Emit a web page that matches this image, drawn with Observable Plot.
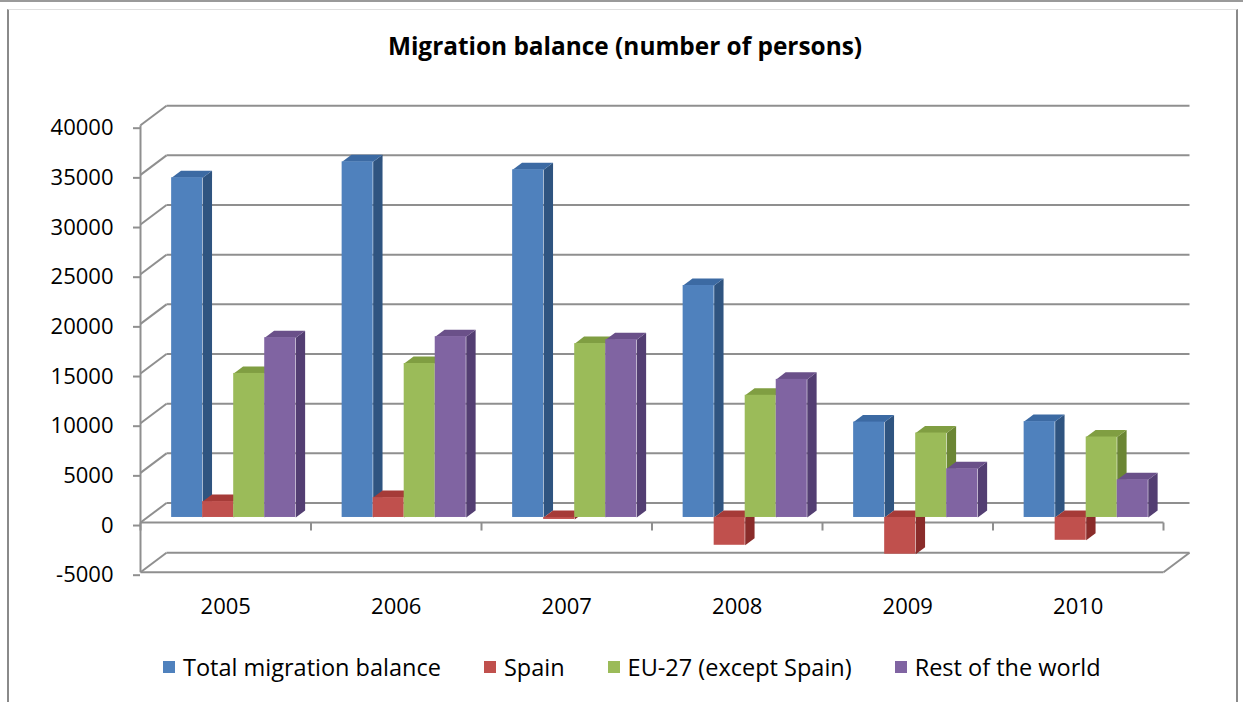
<!DOCTYPE html>
<html>
<head>
<meta charset="utf-8">
<script src="https://cdn.jsdelivr.net/npm/d3@7"></script>
<script src="https://cdn.jsdelivr.net/npm/@observablehq/plot@0.6"></script>
<style>
  html, body { margin: 0; padding: 0; background: #fff; }
  body { width: 1243px; height: 702px; position: relative; overflow: hidden; font-family: "Open Sans", sans-serif; }
  #topline { position: absolute; left: 0; top: 0; width: 1243px; height: 2px; background: #9a9a9a; }
  #frame { position: absolute; left: 7px; top: 9px; width: 1227px; height: 700px; border-left: 2px solid #8a8a8a; border-right: 2px solid #8a8a8a; border-top: 1px solid #e0e0e0; }
  #title { position: absolute; left: 0; top: 31px; width: 1250px; text-align: center; font-weight: bold; font-size: 24.4px; line-height: 30px; color: #000; }
  #chart { position: absolute; left: 0; top: 80px; }
  #legend { position: absolute; left: 163px; top: 652px; display: flex; gap: 43px; font-size: 23.5px; line-height: 30px; color: #000; }
  #legend .item { display: flex; align-items: center; }
  #legend .sw { width: 12px; height: 12px; margin-right: 8px; }
</style>
</head>
<body>
<div id="topline"></div>
<div id="frame"></div>
<div id="title">Migration balance (number of persons)</div>
<div id="chart"></div>
<div id="legend"></div>
<script>
// ---- Data ----
const years = ["2005", "2006", "2007", "2008", "2009", "2010"];
const seriesNames = ["Total migration balance", "Spain", "EU-27 (except Spain)", "Rest of the world"];
const totalBalance = [34200, 35800, 35000, 23350, 9600, 9650];
const spain = [1600, 2000, -200, -2800, -3700, -2300];
const eu27 = [14500, 15500, 17500, 12300, 8500, 8100];
const restOfWorld = [18100, 18200, 17900, 13900, 4900, 3800];
const yTicks = [-5000, 0, 5000, 10000, 15000, 20000, 25000, 30000, 35000, 40000];

// ---- Styles ----
const frontColors = ["#4F81BD", "#C0504D", "#9BBB59", "#8064A2"];
const topColors   = ["#3C6AA3", "#A63B38", "#809E42", "#6A5089"];
const sideColors  = ["#2F5480", "#8A2C2A", "#6B8634", "#533E72"];
const gridColor = "#8f8f8f";

// ---- 3D geometry (in data units) ----
const Y_MIN = -5000, Y_MAX = 40000, N = years.length;
const pxPerX = (1163 - 140) / N;             // pixels per category
const pxPerY = 447 / (Y_MAX - Y_MIN);         // pixels per unit
const KX = 26 / pxPerX;                        // wall depth, x
const KY = 19.5 / pxPerY;                      // wall depth, y
const A = 0.143, W = 0.182, ZF = 0.26, ZB = 0.62;
const TICK = 8 / pxPerY;

const seriesValues = [totalBalance, spain, eu27, restOfWorld];
const bars = [];
years.forEach((yr, j) => {
  seriesValues.forEach((vals, i) => {
    const v = vals[j];
    const x0 = j + A + i * W, x1 = x0 + W;
    bars.push({year: yr, series: seriesNames[i], i, v, x0, x1, b: Math.min(v, 0), t: Math.max(v, 0)});
  });
});
const P = (x, z, v) => ({px: x + z * KX, py: v + z * KY});
const sides = [], tops = [];
bars.forEach((d, k) => {
  [P(d.x1, ZF, d.b), P(d.x1, ZB, d.b), P(d.x1, ZB, d.t), P(d.x1, ZF, d.t)]
    .forEach(p => sides.push({...p, id: k, color: sideColors[d.i]}));
  [P(d.x0, ZF, d.t), P(d.x1, ZF, d.t), P(d.x1, ZB, d.t), P(d.x0, ZB, d.t)]
    .forEach(p => tops.push({...p, id: k, color: topColors[d.i]}));
});

const catTicks = d3.range(N + 1);
const labelPos = years.map((y, j) => j + 0.5);

const chart = Plot.plot({
  width: 1243,
  height: 560,
  marginLeft: 140,
  marginRight: 1243 - 1163,
  marginTop: 44.7,
  marginBottom: 68.3,
  style: {fontFamily: "'Open Sans', sans-serif", fontSize: "22px", background: "transparent", overflow: "visible"},
  x: {type: "linear", domain: [0, N], axis: null, label: null},
  y: {type: "linear", domain: [Y_MIN, Y_MAX], axis: null, label: null},
  color: {type: "identity"},
  marks: [
    // back wall gridlines
    Plot.link(yTicks, {x1: () => KX, x2: () => N + KX, y1: d => d + KY, y2: d => d + KY, stroke: gridColor, strokeWidth: 2}),
    // side wall diagonals
    Plot.link(yTicks, {x1: () => 0, x2: () => KX, y1: d => d, y2: d => d + KY, stroke: gridColor, strokeWidth: 2}),
    // floor front edge and right edge
    Plot.link([Y_MIN], {x1: () => 0, x2: () => N, y1: d => d, y2: d => d, stroke: gridColor, strokeWidth: 2}),
    Plot.link([Y_MIN], {x1: () => N, x2: () => N + KX, y1: d => d, y2: d => d + KY, stroke: gridColor, strokeWidth: 2}),
    // category axis at 0 with ticks
    Plot.link([0], {x1: () => 0, x2: () => N, y1: d => d, y2: d => d, stroke: gridColor, strokeWidth: 2}),
    Plot.link(catTicks, {x1: d => d, x2: d => d, y1: () => 0, y2: () => -TICK, stroke: gridColor, strokeWidth: 2}),
    // value axis line
    Plot.link([0], {x1: d => d, x2: d => d, y1: () => Y_MIN, y2: () => Y_MAX, stroke: gridColor, strokeWidth: 2}),
    Plot.axisY({ticks: yTicks, label: null, tickSize: 7, tickPadding: 20, tickFormat: d => String(d), stroke: gridColor, strokeWidth: 2, fill: "#000", fontSize: 22, dy: 3}),
    Plot.axisX({ticks: labelPos, label: null, tickSize: 0, tickPadding: 26, tickFormat: d => years[Math.floor(d)], fill: "#000", fontSize: 22, anchor: "bottom"}),
    // bars: side faces, top faces, front faces
    Plot.line(sides, {x: "px", y: "py", z: "id", fill: "color", stroke: "none", curve: "linear-closed"}),
    Plot.line(tops, {x: "px", y: "py", z: "id", fill: "color", stroke: "none", curve: "linear-closed"}),
    Plot.rect(bars, {
      x1: d => d.x0 + ZF * KX, x2: d => d.x1 + ZF * KX,
      y1: d => d.b + ZF * KY, y2: d => d.t + ZF * KY,
      fill: d => frontColors[d.i]
    })
  ]
});
document.getElementById("chart").appendChild(chart);

// legend
const legend = document.getElementById("legend");
seriesNames.forEach((name, i) => {
  const item = document.createElement("div");
  item.className = "item";
  const sw = document.createElement("span");
  sw.className = "sw";
  sw.style.background = frontColors[i];
  const tx = document.createElement("span");
  tx.textContent = name;
  item.appendChild(sw); item.appendChild(tx);
  legend.appendChild(item);
});
</script>
</body>
</html>
